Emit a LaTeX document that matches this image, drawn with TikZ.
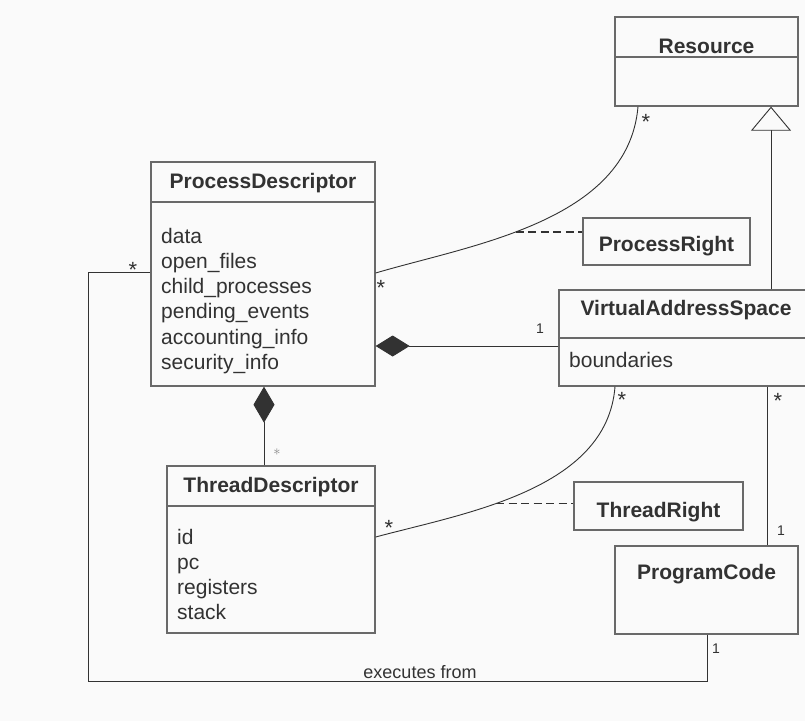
\documentclass[tikz,border=0pt]{standalone}
\usepackage{fontspec}
\setmainfont{Liberation Sans}
\usetikzlibrary{arrows.meta}
\definecolor{boxgray}{RGB}{105,105,105}
\definecolor{inkgray}{RGB}{50,50,50}
\definecolor{paper}{RGB}{250,250,250}
\newcommand{\namefont}{\fontsize{21}{25}\selectfont\bfseries}
\newcommand{\attrfont}{\fontsize{21}{25}\selectfont}
\newcommand{\onefont}{\fontsize{14}{16}\selectfont}
\newcommand{\starfont}{\fontsize{22}{24}\selectfont}
\tikzset{
  classbox/.style={draw=boxgray, line width=1.3pt, inner sep=0pt},
  classname/.style={anchor=base, inner sep=0pt, font=\namefont, text=inkgray},
  attr/.style={anchor=base west, inner sep=0pt, font=\attrfont, text=inkgray},
  assoc/.style={draw=inkgray, line width=0.9pt},
  link/.style={draw=inkgray, line width=1.8pt, dash pattern=on 8pt off 4.5pt},
  composition/.style={assoc, -{Diamond[length=#1,width=21pt,fill=inkgray]}},
  generalization/.style={assoc, -{Triangle[open,length=24pt,width=40pt,fill=paper]}},
  one/.style={anchor=base, inner sep=0pt, font=\onefont, text=inkgray},
  many/.style={anchor=base, inner sep=0pt, font=\starfont, text=inkgray}
}

\begin{document}
\begin{tikzpicture}[x=1pt, y=-1pt]
  \fill[paper] (0,0) rectangle (805,721);
  \useasboundingbox (0,0) rectangle (805,721);

  \node[classbox, minimum width=183pt, minimum height=40pt] (res) at (706.5,37) {};
  \node[classbox, minimum width=183pt, minimum height=49pt] (res-attr) at (706.5,81.5) {};
  \node[classname] (res-name) at (706.5,53) {Resource};

  \node[classbox, minimum width=224pt, minimum height=40pt] (pd) at (263,182) {};
  \node[classbox, minimum width=224pt, minimum height=184pt] (pd-attr) at (263,294) {};
  \node[classname] (pd-name) at (263,188) {ProcessDescriptor};
  \foreach \a [count=\i from 0] in {data,open\_files,child\_processes,pending\_events,accounting\_info,security\_info}
    \node[attr] (pd-\i) at (161,243+25.3*\i) {\a};

  \node[classbox, minimum width=254pt, minimum height=48pt] (vas) at (686,314) {};
  \node[classbox, minimum width=254pt, minimum height=48pt] (vas-attr) at (686,362) {};
  \node[classname] (vas-name) at (686,315) {VirtualAddressSpace};
  \node[attr] (vas-0) at (569,367) {boundaries};

  \node[classbox, minimum width=208pt, minimum height=40pt] (td) at (271,486) {};
  \node[classbox, minimum width=208pt, minimum height=127pt] (td-attr) at (271,569.5) {};
  \node[classname] (td-name) at (271,492) {ThreadDescriptor};
  \foreach \a [count=\i from 0] in {id,pc,registers,stack}
    \node[attr] (td-\i) at (177,544+25.3*\i) {\a};

  \node[classbox, minimum width=183pt, minimum height=88pt] (pc) at (706.5,590) {};
  \node[classname] (pc-name) at (706.5,579) {ProgramCode};

  \node[classbox, minimum width=167pt, minimum height=47pt] (pr) at (666.5,241.5) {};
  \node[classname] (pr-name) at (666.5,251) {ProcessRight};

  \node[classbox, minimum width=169pt, minimum height=48pt] (tr) at (658.5,506) {};
  \node[classname] (tr-name) at (658.5,517) {ThreadRight};

  \draw[assoc] (pd-attr.east |- 0,273) .. controls (470,245) and (628,222) .. (res-attr.south -| 638,0) coordinate[pos=0.43] (pr-link);
  \draw[link] (pr-link) -- (pr-link -| pr.west);
  \node[many] (m1) at (646,129.6) {*};
  \node[many] (m2) at (381,295.6) {*};

  \draw[composition=34pt] (vas-attr.west |- 0,346) -- (pd-attr.east |- 0,346);
  \node[one] (o1) at (540,333) {1};

  \draw[composition=36pt] (td.north -| 264,0) -- (pd-attr.south -| 264,0);
  \node[inner sep=0pt, text=inkgray!60, font=\onefont] (m3) at (277,452) {$\ast$};

  \draw[generalization] (vas.north -| 771,0) -- (res-attr.south -| 771,0);

  \draw[assoc] (td-attr.east |- 0,537) .. controls (465,513) and (607,490) .. (vas-attr.south -| 615,0) coordinate[pos=0.4] (tr-link);
  \draw[link] (tr-link) -- (tr-link -| tr.west);
  \node[many] (m4) at (389,535.6) {*};
  \node[many] (m5) at (622,407.6) {*};

  \draw[assoc] (vas-attr.south -| 767,0) -- (pc.north -| 767,0);
  \node[many] (m6) at (778,408.6) {*};
  \node[one] (o2) at (781,535) {1};

  \coordinate (bend) at (88,681);
  \draw[assoc] (pc.south -| 707,0) |- (bend) |- (pd-attr.west |- 0,272);
  \node[one] (o3) at (716,653) {1};
  \node[many] (m7) at (133,277.6) {*};
  \node[anchor=base, inner sep=0pt, font=\fontsize{18}{20}\selectfont, text=inkgray] (exec) at (420,678) {executes from};
\end{tikzpicture}
\end{document}
